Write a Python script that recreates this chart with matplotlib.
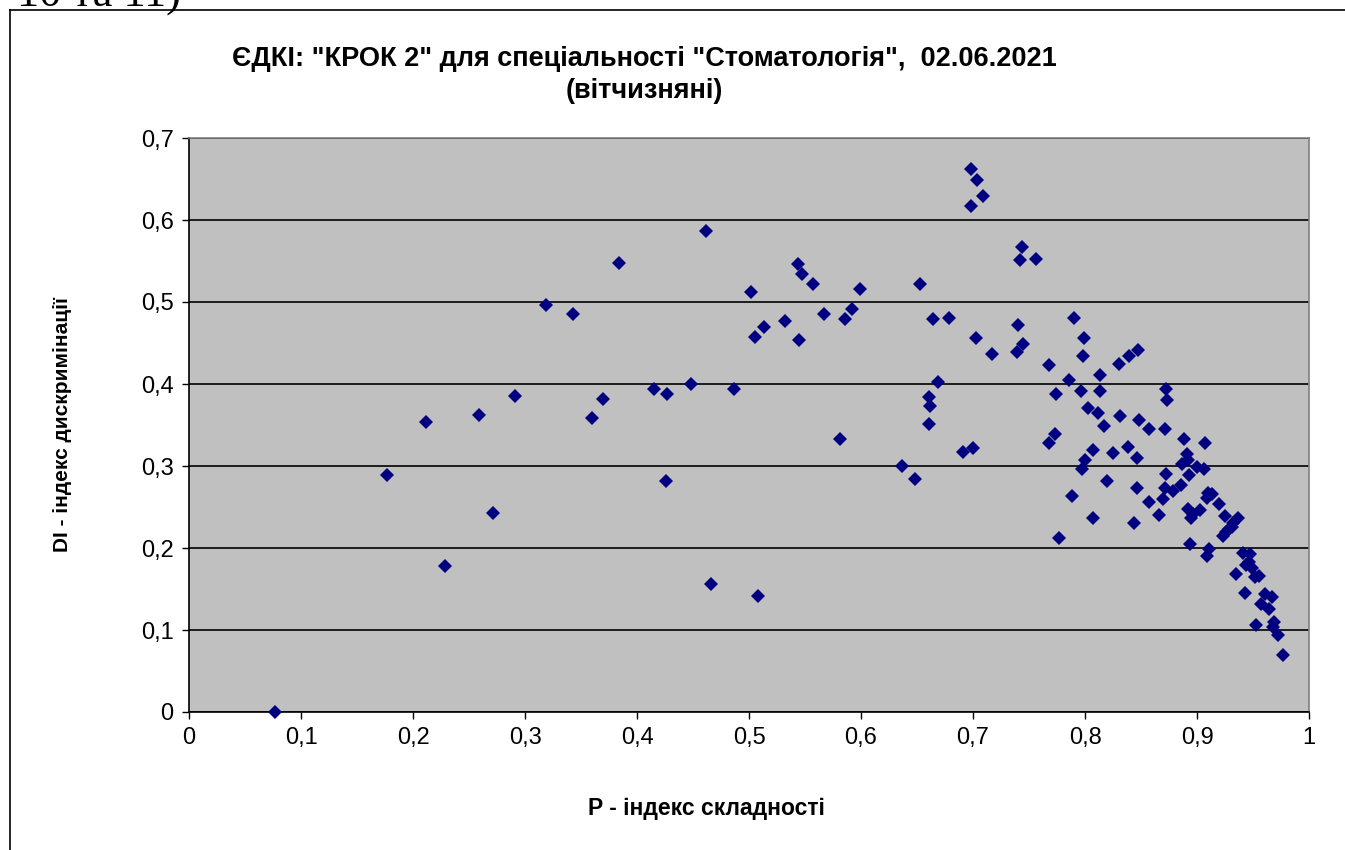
import matplotlib
matplotlib.use("Agg")
import matplotlib.pyplot as plt
from matplotlib.ticker import FuncFormatter, MultipleLocator
from matplotlib.lines import Line2D

# P - difficulty index, DI - discrimination index
p_index = [
    0.077, 0.177, 0.212, 0.229, 0.259, 0.271, 0.291, 0.319, 0.343, 0.360,
    0.370, 0.384, 0.415, 0.426, 0.427, 0.448, 0.462, 0.466, 0.487, 0.502,
    0.505, 0.508, 0.513, 0.532, 0.544, 0.547, 0.545, 0.557, 0.567, 0.581,
    0.586, 0.592, 0.599, 0.637, 0.648, 0.653, 0.661, 0.662, 0.661, 0.664,
    0.669, 0.679, 0.691, 0.700, 0.698, 0.704, 0.709, 0.698, 0.703, 0.717,
    0.739, 0.740, 0.745, 0.742, 0.744, 0.756, 0.768, 0.768, 0.773, 0.774,
    0.777, 0.786, 0.788, 0.790, 0.796, 0.797, 0.798, 0.799, 0.800, 0.803,
    0.807, 0.807, 0.812, 0.813, 0.813, 0.817, 0.820, 0.825, 0.830, 0.831,
    0.838, 0.839, 0.844, 0.846, 0.846, 0.847, 0.848, 0.857, 0.857, 0.866,
    0.870, 0.871, 0.871, 0.872, 0.873, 0.872, 0.879, 0.886, 0.887, 0.888,
    0.891, 0.892, 0.893, 0.892, 0.896, 0.895, 0.894, 0.900, 0.906, 0.903,
    0.907, 0.909, 0.910, 0.913, 0.909, 0.911, 0.920, 0.923, 0.925, 0.926,
    0.929, 0.931, 0.932, 0.937, 0.935, 0.941, 0.943, 0.944, 0.946, 0.947,
    0.949, 0.952, 0.955, 0.953, 0.957, 0.961, 0.964, 0.967, 0.968, 0.969,
    0.972, 0.977,
]
di_index = [
    0.000, 0.289, 0.354, 0.178, 0.362, 0.243, 0.385, 0.496, 0.485, 0.359,
    0.382, 0.548, 0.394, 0.282, 0.388, 0.400, 0.587, 0.156, 0.394, 0.512,
    0.457, 0.141, 0.470, 0.477, 0.546, 0.534, 0.454, 0.522, 0.485, 0.333,
    0.479, 0.492, 0.516, 0.300, 0.284, 0.522, 0.384, 0.373, 0.351, 0.479,
    0.402, 0.480, 0.317, 0.322, 0.662, 0.649, 0.629, 0.617, 0.456, 0.437,
    0.439, 0.472, 0.449, 0.551, 0.567, 0.552, 0.423, 0.328, 0.339, 0.388,
    0.212, 0.405, 0.263, 0.480, 0.391, 0.296, 0.434, 0.456, 0.307, 0.371,
    0.319, 0.237, 0.365, 0.411, 0.391, 0.349, 0.282, 0.316, 0.425, 0.361,
    0.323, 0.434, 0.231, 0.310, 0.273, 0.441, 0.356, 0.345, 0.256, 0.240,
    0.260, 0.345, 0.273, 0.394, 0.381, 0.290, 0.270, 0.277, 0.303, 0.333,
    0.315, 0.307, 0.289, 0.247, 0.242, 0.236, 0.205, 0.299, 0.296, 0.246,
    0.328, 0.261, 0.267, 0.266, 0.190, 0.199, 0.254, 0.215, 0.239, 0.220,
    0.223, 0.226, 0.231, 0.236, 0.168, 0.194, 0.145, 0.179, 0.183, 0.193,
    0.176, 0.165, 0.166, 0.106, 0.132, 0.144, 0.126, 0.140, 0.104, 0.110,
    0.094, 0.069,
]

title_text = 'ЄДКІ: "КРОК 2" для спеціальності "Стоматологія",  02.06.2021\n(вітчизняні)'
xlabel_text = "P - індекс складності"
ylabel_text = "DI - індекс дискримінації"

plt.rcParams['font.family'] = ['Liberation Sans', 'DejaVu Sans']

W, H = 1345, 850
fig = plt.figure(figsize=(W / 100, H / 100), dpi=100)
fig.patch.set_facecolor("white")

# outer frame of the embedded chart (only top and left edges visible)
fig.add_artist(Line2D([10 / W, 10 / W], [0, 1 - 10 / H], color="black", lw=1.2))
fig.add_artist(Line2D([10 / W, 1], [1 - 10 / H, 1 - 10 / H], color="black", lw=1.2))
# cut-off document text above the chart (cut off in the source too)
fig.text(17 / W, 1 - 7 / H, "10 та 11)", family=["Liberation Serif", "DejaVu Serif"],
         fontsize=32, va="baseline", ha="left")

ax = fig.add_axes([189 / W, (H - 712) / H, 1120 / W, 574 / H])
ax.set_facecolor("#C0C0C0")
ax.set_xlim(0, 1)
ax.set_ylim(0, 0.7)

ax.xaxis.set_major_locator(MultipleLocator(0.1))
ax.yaxis.set_major_locator(MultipleLocator(0.1))

def comma_fmt(v, pos):
    s = "%.1f" % v
    if s.endswith(".0"):
        s = s[:-2]
    return s.replace(".", ",")

ax.xaxis.set_major_formatter(FuncFormatter(comma_fmt))
ax.yaxis.set_major_formatter(FuncFormatter(comma_fmt))

ax.yaxis.grid(True, color="black", lw=1.2)
ax.set_axisbelow(True)

for side in ["top", "right"]:
    ax.spines[side].set_color("#808080")
    ax.spines[side].set_linewidth(1.2)
for side in ["left", "bottom"]:
    ax.spines[side].set_color("black")
    ax.spines[side].set_linewidth(1.2)

ax.tick_params(axis="both", direction="out", length=5, width=1, color="black",
               labelsize=17, pad=6)

ax.plot(p_index, di_index, "D", color="#000080", markersize=7.5, markeredgewidth=0,
        clip_on=False, zorder=3)

fig.text(644 / W, 1 - 75 / H, title_text, ha="center", va="center",
         fontsize=19.5, fontweight="bold", linespacing=1.35)
fig.text(706 / W, 1 - 808 / H, xlabel_text, ha="center", va="center",
         fontsize=16.5, fontweight="bold")
fig.text(62 / W, 1 - 425 / H, ylabel_text, ha="center", va="center",
         fontsize=15, fontweight="bold", rotation=90)

fig.savefig("out.png", dpi=100)
